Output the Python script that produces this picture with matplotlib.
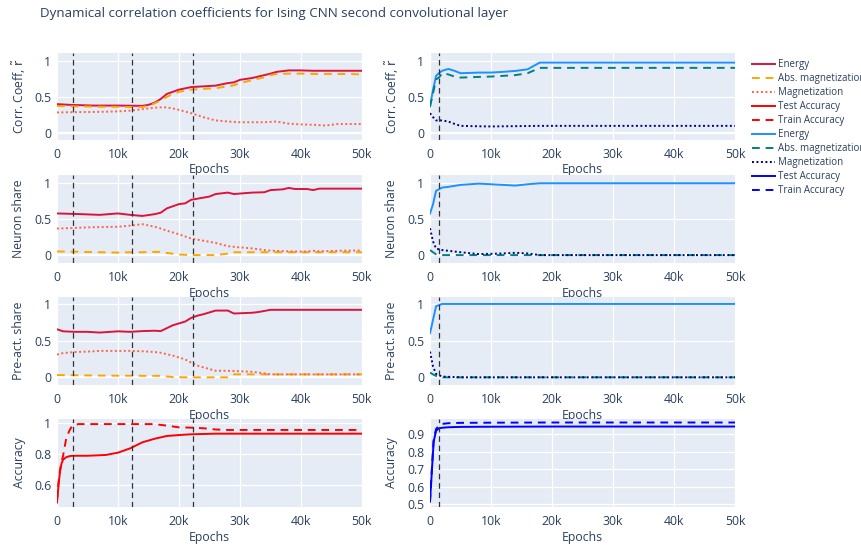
import matplotlib
matplotlib.use("Agg")
import matplotlib.pyplot as plt
from matplotlib.ticker import FixedLocator, FuncFormatter

plt.rcParams['font.family'] = ['Open Sans', 'DejaVu Sans']
plt.rcParams['mathtext.fontset'] = 'dejavusans'

TXT = '#2a3f5f'
BG = '#E5ECF6'

# ---------------- data ----------------
title = "Dynamical correlation coefficients for Ising CNN second convolutional layer"
ylabels = ["Corr. Coeff, $\\tilde{\\mathrm{r}}$", "Neuron share", "Pre-act. share", "Accuracy"]
xticks = [0, 10000, 20000, 30000, 40000, 50000]
xticklabels = ["0", "10k", "20k", "30k", "40k", "50k"]
vlines_left = [2700, 12300, 22300]
vlines_right = [1500]

# left column, row 1 (correlation coefficient)
ep_L1 = [0, 2000, 4000, 6000, 8000, 10000, 12000, 14000, 15000, 16000, 17000, 18000, 19000, 20000,
         22000, 24000, 26000, 28000, 29000, 30000, 32000, 34000, 35000, 36000, 38000, 40000, 42000,
         44000, 46000, 48000, 50000]
energy_L1 = [0.40, 0.39, 0.385, 0.38, 0.38, 0.38, 0.378, 0.376, 0.39, 0.42, 0.47, 0.54, 0.57, 0.60,
             0.635, 0.645, 0.655, 0.69, 0.70, 0.735, 0.76, 0.80, 0.82, 0.845, 0.865, 0.865, 0.86,
             0.86, 0.86, 0.86, 0.86]
absmag_L1 = [0.375, 0.37, 0.368, 0.365, 0.363, 0.362, 0.36, 0.36, 0.375, 0.41, 0.45, 0.50, 0.54, 0.57,
             0.60, 0.61, 0.62, 0.645, 0.66, 0.69, 0.73, 0.77, 0.80, 0.815, 0.82, 0.82, 0.815,
             0.815, 0.815, 0.815, 0.81]
mag_L1 = [0.285, 0.288, 0.29, 0.292, 0.295, 0.30, 0.31, 0.33, 0.34, 0.35, 0.355, 0.355, 0.34, 0.32,
          0.275, 0.22, 0.175, 0.16, 0.155, 0.15, 0.15, 0.15, 0.155, 0.16, 0.13, 0.12, 0.115,
          0.105, 0.125, 0.125, 0.125]

# left column, row 2 (neuron share)
ep_L2 = [0, 2000, 4000, 7000, 10000, 12000, 14000, 16000, 17000, 18000, 20000, 21000, 22000, 24000,
         25000, 26000, 28000, 29000, 32000, 34000, 35000, 37000, 38000, 39000, 41000, 42000, 43000,
         46000, 50000]
energy_L2 = [0.58, 0.575, 0.57, 0.56, 0.58, 0.56, 0.545, 0.57, 0.59, 0.65, 0.71, 0.72, 0.77, 0.80,
             0.815, 0.85, 0.87, 0.85, 0.87, 0.875, 0.905, 0.915, 0.935, 0.92, 0.92, 0.905, 0.925,
             0.925, 0.925]
absmag_L2 = [0.05, 0.05, 0.045, 0.04, 0.035, 0.04, 0.04, 0.045, 0.045, 0.03, 0.008, 0.004, 0.0, 0.0,
             0.0, 0.0, 0.02, 0.04, 0.04, 0.04, 0.04, 0.04, 0.04, 0.04, 0.04, 0.04, 0.04,
             0.04, 0.04]
mag_L2 = [0.37, 0.375, 0.383, 0.39, 0.395, 0.41, 0.43, 0.395, 0.37, 0.34, 0.29, 0.26, 0.23, 0.20,
          0.185, 0.17, 0.125, 0.115, 0.093, 0.07, 0.062, 0.055, 0.052, 0.05, 0.05, 0.06, 0.052,
          0.06, 0.065]

# left column, row 3 (pre-activation share)
ep_L3 = [0, 1000, 3000, 5000, 7000, 10000, 12000, 14000, 16000, 17000, 19000, 21000, 22000, 23000,
         24000, 26000, 28000, 29000, 32000, 33000, 35000, 40000, 45000, 50000]
energy_L3 = [0.655, 0.627, 0.62, 0.62, 0.61, 0.627, 0.62, 0.63, 0.635, 0.63, 0.71, 0.76, 0.81, 0.84,
             0.86, 0.91, 0.91, 0.87, 0.88, 0.89, 0.92, 0.92, 0.92, 0.92]
absmag_L3 = [0.03, 0.03, 0.028, 0.026, 0.024, 0.022, 0.022, 0.02, 0.02, 0.02, 0.003, 0.0, 0.0, 0.0,
             0.0, 0.0, 0.0, 0.04, 0.04, 0.04, 0.04, 0.04, 0.04, 0.04]
mag_L3 = [0.31, 0.33, 0.345, 0.35, 0.36, 0.36, 0.36, 0.355, 0.345, 0.335, 0.295, 0.245, 0.20, 0.16,
          0.135, 0.09, 0.088, 0.086, 0.075, 0.065, 0.04, 0.04, 0.04, 0.04]

# left column, row 4 (accuracy)
ep_L4 = [0, 250, 500, 750, 1000, 1500, 2000, 2500, 3500, 5000, 8000, 10000, 12000, 14000, 16000,
         18000, 20000, 22000, 24000, 26000, 28000, 30000, 40000, 50000]
test_L4 = [0.487, 0.60, 0.69, 0.74, 0.765, 0.78, 0.787, 0.79, 0.79, 0.79, 0.795, 0.81, 0.838, 0.877,
           0.90, 0.918, 0.924, 0.929, 0.931, 0.933, 0.933, 0.933, 0.933, 0.933]
train_L4 = [0.50, 0.62, 0.70, 0.75, 0.79, 0.90, 0.95, 0.985, 0.995, 0.995, 0.995, 0.995, 0.995, 0.995,
            0.995, 0.985, 0.974, 0.972, 0.968, 0.96, 0.957, 0.957, 0.957, 0.957]

# right column, row 1
ep_R1 = [0, 500, 1000, 1500, 2000, 3000, 4000, 5000, 8000, 10000, 12000, 14000, 16000, 18000,
         20000, 30000, 40000, 50000]
energy_R1 = [0.367, 0.60, 0.79, 0.83, 0.86, 0.885, 0.86, 0.826, 0.835, 0.835, 0.845, 0.858, 0.88,
             0.973, 0.973, 0.973, 0.973, 0.973]
absmag_R1 = [0.367, 0.55, 0.74, 0.77, 0.826, 0.81, 0.78, 0.766, 0.775, 0.78, 0.79, 0.80, 0.826,
             0.90, 0.90, 0.90, 0.90, 0.90]
mag_R1 = [0.275, 0.22, 0.175, 0.175, 0.175, 0.16, 0.128, 0.10, 0.094, 0.092, 0.094, 0.096, 0.098,
          0.10, 0.10, 0.10, 0.10, 0.10]

# right column, row 2
ep_R2 = [0, 500, 1000, 2000, 3000, 5000, 8000, 10000, 12000, 14000, 16000, 18000, 20000, 30000,
         40000, 50000]
energy_R2 = [0.577, 0.71, 0.895, 0.94, 0.95, 0.977, 0.995, 0.986, 0.977, 0.968, 0.986, 1.0, 1.0, 1.0,
             1.0, 1.0]
absmag_R2 = [0.07, 0.04, 0.01, 0.0, 0.0, 0.0, 0.0, 0.0, 0.0, 0.0, 0.0, 0.0, 0.0, 0.0, 0.0, 0.0]
mag_R2 = [0.373, 0.19, 0.09, 0.07, 0.06, 0.04, 0.014, 0.018, 0.023, 0.032, 0.023, 0.0, 0.0, 0.0,
          0.0, 0.0]

# right column, row 3
ep_R3 = [0, 500, 1000, 2000, 5000, 10000, 20000, 30000, 40000, 50000]
energy_R3 = [0.60, 0.785, 0.97, 1.0, 1.0, 1.0, 1.0, 1.0, 1.0, 1.0]
absmag_R3 = [0.064, 0.04, 0.018, 0.0, 0.0, 0.0, 0.0, 0.0, 0.0, 0.0]
mag_R3 = [0.35, 0.146, 0.046, 0.01, 0.0, 0.0, 0.0, 0.0, 0.0, 0.0]

# right column, row 4
ep_R4 = [0, 300, 600, 1000, 1500, 2000, 3000, 5000, 10000, 20000, 30000, 40000, 50000]
test_R4 = [0.515, 0.687, 0.858, 0.92, 0.934, 0.937, 0.94, 0.942, 0.943, 0.944, 0.944, 0.944, 0.944]
train_R4 = [0.515, 0.70, 0.87, 0.93, 0.95, 0.959, 0.963, 0.965, 0.966, 0.967, 0.967, 0.967, 0.967]

# ---------------- styles ----------------
LW = 1.4
DASH = (0, (4, 3))
DOT = (0, (1, 1.3))
left_col = {'energy': '#DC143C', 'absmag': '#FFA500', 'mag': '#FF6347', 'acc': '#FF0000'}
right_col = {'energy': '#1E90FF', 'absmag': '#008080', 'mag': '#000080', 'acc': '#0000FF'}

W, H = 862, 548
fig = plt.figure(figsize=(W / 100, H / 100), dpi=100)

col_x = [(57, 362), (430, 735)]
row_y = [(53, 140), (175, 263), (297, 385), (419, 507)]
ylims_left = [(-0.095, 1.105), (-0.11, 1.115), (-0.105, 1.095), (0.458, 1.028)]
ylims_right = [(-0.095, 1.105), (-0.11, 1.115), (-0.105, 1.095), (0.485, 0.987)]
yticks_rows = [[0, 0.5, 1], [0, 0.5, 1], [0, 0.5, 1]]
yticks_acc_left = [0.6, 0.8, 1]
yticks_acc_right = [0.5, 0.6, 0.7, 0.8, 0.9]


def fmt(v, pos=None):
    s = ('%.2f' % v).rstrip('0').rstrip('.')
    return s


def make_ax(ci, ri):
    x0, x1 = col_x[ci]
    y0, y1 = row_y[ri]
    ax = fig.add_axes([x0 / W, 1 - y1 / H, (x1 - x0) / W, (y1 - y0) / H])
    ax.set_facecolor(BG)
    for s in ax.spines.values():
        s.set_visible(False)
    ax.set_xlim(0, 50000)
    ax.xaxis.set_major_locator(FixedLocator(xticks))
    ax.set_xticklabels(xticklabels)
    ax.grid(True, color='white', lw=0.9, zorder=0)
    ax.set_axisbelow(True)
    ax.tick_params(length=0, colors=TXT, labelsize=8.8, pad=4)
    ax.tick_params(axis='x', pad=6)
    ax.set_xlabel('Epochs', color=TXT, fontsize=8.8, va='center')
    ax.xaxis.set_label_coords(0.5, -30 / (y1 - y0))
    ax.set_ylabel(ylabels[ri], color=TXT, fontsize=8.8, va='center')
    ax.yaxis.set_label_coords(-38 / (x1 - x0), 0.5)
    return ax


panels = [
    (0, 0, ep_L1, energy_L1, absmag_L1, mag_L1),
    (0, 1, ep_L2, energy_L2, absmag_L2, mag_L2),
    (0, 2, ep_L3, energy_L3, absmag_L3, mag_L3),
    (1, 0, ep_R1, energy_R1, absmag_R1, mag_R1),
    (1, 1, ep_R2, energy_R2, absmag_R2, mag_R2),
    (1, 2, ep_R3, energy_R3, absmag_R3, mag_R3),
]
leg = {}
for ci, ri, ep, en, am, mg in panels:
    ax = make_ax(ci, ri)
    cols = left_col if ci == 0 else right_col
    ax.set_ylim(*(ylims_left if ci == 0 else ylims_right)[ri])
    ax.yaxis.set_major_locator(FixedLocator(yticks_rows[ri]))
    ax.yaxis.set_major_formatter(FuncFormatter(fmt))
    ax.axhline(0, color='white', lw=1.6, zorder=1)
    l1, = ax.plot(ep, en, color=cols['energy'], lw=LW, label='Energy', zorder=3)
    l2, = ax.plot(ep, am, color=cols['absmag'], lw=LW, ls=DASH, label='Abs. magnetization', zorder=3)
    l3, = ax.plot(ep, mg, color=cols['mag'], lw=LW, ls=DOT, label='Magnetization', zorder=3)
    for v in (vlines_left if ci == 0 else vlines_right):
        ax.axvline(v, color='#333333', lw=0.9, ls=(0, (4.5, 3)), zorder=4)
    if ri == 0:
        leg[ci] = [l1, l2, l3]

for ci, ep, te, tr in [(0, ep_L4, test_L4, train_L4), (1, ep_R4, test_R4, train_R4)]:
    ax = make_ax(ci, 3)
    cols = left_col if ci == 0 else right_col
    ax.set_ylim(*(ylims_left if ci == 0 else ylims_right)[3])
    ax.yaxis.set_major_locator(FixedLocator(yticks_acc_left if ci == 0 else yticks_acc_right))
    ax.yaxis.set_major_formatter(FuncFormatter(fmt))
    l4, = ax.plot(ep, te, color=cols['acc'], lw=LW, label='Test Accuracy', zorder=3)
    l5, = ax.plot(ep, tr, color=cols['acc'], lw=LW, ls=DASH, label='Train Accuracy', zorder=3)
    for v in (vlines_left if ci == 0 else vlines_right):
        ax.axvline(v, color='#333333', lw=0.9, ls=(0, (4.5, 3)), zorder=4)
    leg[ci] = leg[ci] + [l4, l5]

all_handles = leg[0] + leg[1]
fig.legend(all_handles, [h.get_label() for h in all_handles], loc='upper left',
           bbox_to_anchor=(752 / W, 1 - 59 / H), frameon=False, fontsize=7,
           handlelength=2.4, handletextpad=0.25, labelspacing=0.31, borderaxespad=0,
           borderpad=0, labelcolor=TXT)

fig.text(40 / W, 1 - 13 / H, title, color=TXT, fontsize=9.6, ha='left', va='center')

fig.savefig('out.png', dpi=100)
